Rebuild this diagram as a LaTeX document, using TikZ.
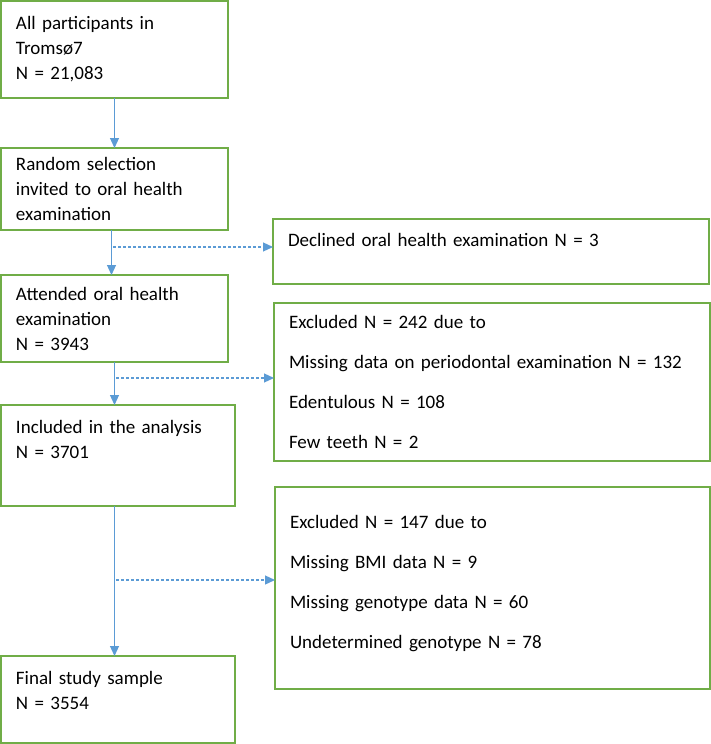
\documentclass[tikz,border=0pt]{standalone}
\usepackage{fontspec}
\setmainfont{Carlito}
\usetikzlibrary{arrows.meta,calc,positioning}
\definecolor{flowgreen}{RGB}{112,173,71}
\definecolor{flowblue}{RGB}{91,155,213}

\begin{document}
\begin{tikzpicture}[
    x=1pt, y=-1pt,
    stage/.style={draw=flowgreen, line width=2pt, anchor=north west, outer sep=0pt, inner xsep=15pt, inner ysep=0pt, align=left, font=\fontsize{19}{25}\selectfont},
    flow/.style={-{Triangle[length=10pt,width=9pt]}, line width=1.2pt, flowblue},
    side/.style={flow, dash pattern=on 3pt off 2pt}
]

% Frame
\useasboundingbox (0,0) rectangle (711,744);

% Main flow (left)
\node[stage, text width=197pt, minimum height=97pt] (allp) at (1,1) {All participants in\\Tromsø7\\N = 21,083};
\node[stage, text width=197pt, minimum height=82pt] (rand) at (1,148) {Random selection\\invited to oral health\\examination};
\node[stage, text width=197pt, minimum height=87pt] (attend) at (1,275) {Attended oral health\\examination\\N = 3943};
\node[stage, text width=204pt, minimum height=101pt] (incl) at (1,405) {Included in the analysis\\N = 3701\\[7pt]\mbox{}};
\node[stage, text width=204pt, minimum height=87pt] (final) at (1,656) {Final study sample\\N = 3554\\[-6pt]\mbox{}};

% Exclusions (right)
\node[stage, text width=406pt, minimum height=65pt] (decl) at (273,219) {Declined oral health examination N = 3\\[-2pt]\mbox{}};
\node[stage, text width=406pt, minimum height=158pt] (excl1) at (274,303) {Excluded N = 242 due to\\[15pt]
    Missing data on periodontal examination N = 132\\[15pt]
    Edentulous N = 108\\[15pt]
    Few teeth N = 2};
\node[stage, text width=405pt, minimum height=202pt] (excl2) at (275,487) {Excluded N = 147 due to\\[15pt]
    Missing BMI data N = 9\\[15pt]
    Missing genotype data N = 60\\[15pt]
    Undetermined genotype N = 78\\[-13pt]\mbox{}};

% Arrows down
\draw[flow] (allp) -- (rand);
\draw[flow] ([xshift=-3pt]rand.south) -- ([xshift=-3pt]rand.south |- attend.north);
\draw[flow] (attend.south) -- (attend.south |- incl.north);
\draw[flow] (incl.south -| attend.south) -- (final.north -| attend.south);

% Dashed arrows to the side
\coordinate (d1) at (113,247);
\coordinate (d2) at (116,378);
\coordinate (d3) at (116,580);
\draw[side] (d1) -- (d1 -| decl.west);
\draw[side] (d2) -- (d2 -| excl1.west);
\draw[side] (d3) -- (d3 -| excl2.west);

\end{tikzpicture}
\end{document}
